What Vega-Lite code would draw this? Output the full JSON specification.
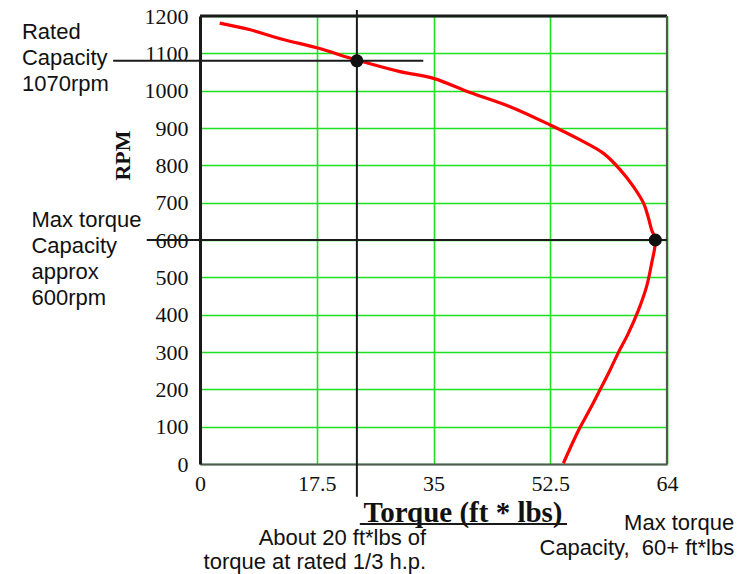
{
  "$schema": "https://vega.github.io/schema/vega-lite/v6.json",
  "width": 467,
  "height": 448,
  "autosize": "none",
  "padding": {"left": 200, "top": 16, "right": 77, "bottom": 110},
  "background": "white",
  "config": {
    "view": {"stroke": null},
    "axis": {"gridColor": "#1fe01f", "gridWidth": 1.6, "gridOpacity": 1, "ticks": false, "tickSize": 0, "labelColor": "#111111", "titleColor": "#111111", "labelFlush": false, "labelOverlap": false}
  },
  "datasets": {
    "curve": [
      {"x": 2.7, "y": 1181}, {"x": 6.9, "y": 1163}, {"x": 11.4, "y": 1137}, {"x": 16.0, "y": 1115},
      {"x": 21.5, "y": 1082}, {"x": 27.4, "y": 1051}, {"x": 32.0, "y": 1033}, {"x": 37.0, "y": 995},
      {"x": 42.5, "y": 957}, {"x": 48.0, "y": 908}, {"x": 52.1, "y": 868}, {"x": 55.3, "y": 832},
      {"x": 57.6, "y": 788}, {"x": 59.4, "y": 743}, {"x": 60.8, "y": 698}, {"x": 61.4, "y": 663},
      {"x": 61.9, "y": 627}, {"x": 62.4, "y": 600}, {"x": 61.9, "y": 538}, {"x": 61.2, "y": 475},
      {"x": 60.1, "y": 413}, {"x": 58.7, "y": 350}, {"x": 57.3, "y": 297}, {"x": 56.2, "y": 252},
      {"x": 54.8, "y": 198}, {"x": 53.4, "y": 145}, {"x": 51.9, "y": 91}, {"x": 49.8, "y": 2}
    ],
    "rules": [
      {"x": 21.5, "x2": 21.5, "y": -88, "y2": 1216},
      {"x": -11.9, "x2": 30.6, "y": 1080, "y2": 1080},
      {"x": -7.3, "x2": 64, "y": 600, "y2": 600},
      {"x": 21.9, "x2": 50.3, "y": -161, "y2": -161}
    ],
    "frameTop": [
      {"x": 0, "x2": 64, "y": 1200, "y2": 1200}
    ],
    "frameRight": [
      {"x": 64, "x2": 64, "y": 0, "y2": 1200}
    ],
    "points": [
      {"x": 21.5, "y": 1080},
      {"x": 62.4, "y": 600}
    ],
    "textLeft": [
      {"x": -24.4, "y": 1138, "t": "Rated"},
      {"x": -24.4, "y": 1068, "t": "Capacity"},
      {"x": -24.4, "y": 998, "t": "1070rpm"},
      {"x": -23.1, "y": 634, "t": "Max torque"},
      {"x": -23.1, "y": 565, "t": "Capacity"},
      {"x": -23.1, "y": 496, "t": "approx"},
      {"x": -23.1, "y": 426, "t": "600rpm"}
    ],
    "textRight": [
      {"x": 31.0, "y": -217, "t": "About 20 ft*lbs of"},
      {"x": 31.0, "y": -282, "t": "torque at rated 1/3 h.p."},
      {"x": 73.2, "y": -176, "t": "Max torque"},
      {"x": 73.2, "y": -243, "t": "Capacity,\u00a0\u00a060+ ft*lbs"}
    ]
  },
  "encoding": {
    "x": {
      "field": "x", "type": "quantitative",
      "scale": {"domain": [0, 64], "nice": false, "zero": false},
      "axis": {
        "values": [0, 16, 32, 48, 64],
        "labelExpr": "datum.value == 16 ? '17.5' : datum.value == 32 ? '35' : datum.value == 48 ? '52.5' : datum.label",
        "labelFont": "Liberation Serif", "labelFontSize": 22, "labelBaseline": "alphabetic", "labelPadding": 26,
        "domain": true, "domainColor": "#555555", "domainWidth": 2.2,
        "title": "Torque (ft * lbs)", "titleFont": "Liberation Serif", "titleFontWeight": "bold", "titleFontSize": 29,
        "titleX": 262.5, "titleY": 57, "titleBaseline": "alphabetic", "titleAlign": "center"
      }
    },
    "y": {
      "field": "y", "type": "quantitative",
      "scale": {"domain": [0, 1200], "nice": false, "zero": false},
      "axis": {
        "values": [0, 100, 200, 300, 400, 500, 600, 700, 800, 900, 1000, 1100, 1200],
        "format": "d",
        "labelFont": "Liberation Serif", "labelFontSize": 22, "labelPadding": 12, "labelBaseline": "middle",
        "domain": true, "domainColor": "#1a1a1a", "domainWidth": 3,
        "title": "RPM", "titleFont": "Liberation Serif", "titleFontWeight": "bold", "titleFontSize": 22,
        "titleAngle": 270, "titleX": -78, "titleY": 139, "titleBaseline": "middle", "titleAlign": "center"
      }
    }
  },
  "layer": [
    {
      "data": {"name": "curve"},
      "mark": {"type": "line", "color": "#ff0000", "strokeWidth": 3.2, "interpolate": "catmull-rom"},
      "encoding": {"order": {"field": "y", "type": "quantitative", "sort": "descending"}}
    },
    {
      "data": {"name": "frameTop"},
      "mark": {"type": "rule", "color": "#1a1a1a", "strokeWidth": 3},
      "encoding": {"x2": {"field": "x2"}, "y2": {"field": "y2"}}
    },
    {
      "data": {"name": "frameRight"},
      "mark": {"type": "rule", "color": "#555555", "strokeWidth": 2.2},
      "encoding": {"x2": {"field": "x2"}, "y2": {"field": "y2"}}
    },
    {
      "data": {"name": "rules"},
      "mark": {"type": "rule", "color": "#1a1a1a", "strokeWidth": 2},
      "encoding": {"x2": {"field": "x2"}, "y2": {"field": "y2"}}
    },
    {
      "data": {"name": "points"},
      "mark": {"type": "point", "filled": true, "shape": "circle", "color": "#111111", "opacity": 1, "size": 170}
    },
    {
      "data": {"name": "textLeft"},
      "mark": {"type": "text", "align": "left", "baseline": "alphabetic", "font": "Liberation Sans", "fontSize": 22, "color": "#111111"},
      "encoding": {"text": {"field": "t"}}
    },
    {
      "data": {"name": "textRight"},
      "mark": {"type": "text", "align": "right", "baseline": "alphabetic", "font": "Liberation Sans", "fontSize": 22, "color": "#111111"},
      "encoding": {"text": {"field": "t"}}
    }
  ]
}
